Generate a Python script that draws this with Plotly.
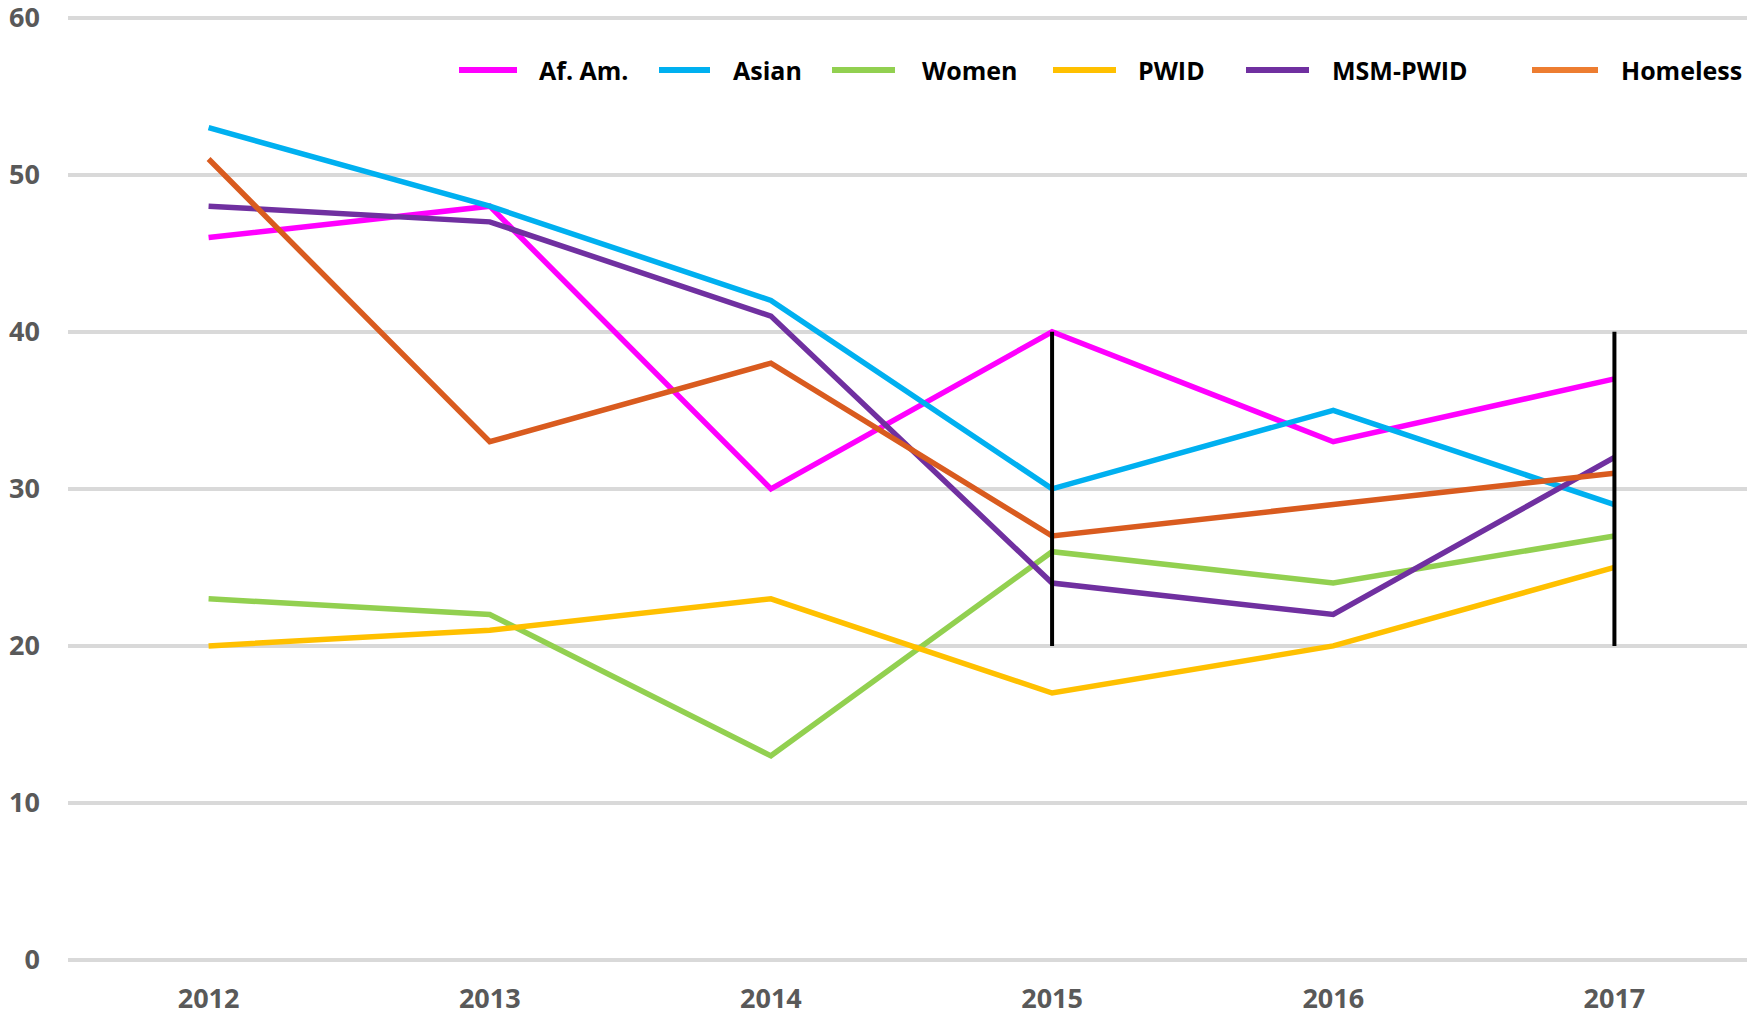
import plotly.graph_objects as go

years = ["2012", "2013", "2014", "2015", "2016", "2017"]
series_names = ["Af. Am.", "Asian", "Women", "PWID", "MSM-PWID", "Homeless"]
af_am = [46, 48, 30, 40, 33, 37]
asian = [53, 48, 42, 30, 35, 29]
women = [23, 22, 13, 26, 24, 27]
pwid = [20, 21, 23, 17, 20, 25]
msm_pwid = [48, 47, 41, 24, 22, 32]
homeless = [51, 33, 38, 27, 29, 31]
series_values = [af_am, asian, women, pwid, msm_pwid, homeless]

range_years = ["2015", "2017"]
range_low = [20, 20]
range_high = [40, 40]

y_ticks = [0, 10, 20, 30, 40, 50, 60]
y_max = 60.3

line_colors = ["#FF00FF", "#00B0F0", "#92D050", "#FFC000", "#7030A0", "#D95B1F"]
legend_colors = ["#FF00FF", "#00B0F0", "#92D050", "#FFC000", "#7030A0", "#ED7D31"]

# page body has an 8px margin, so the figure is offset by (8, 8)
OFF = 8
W, H = 1755 - OFF, 1018 - OFF
ML, MR, MT, MB = 68 - OFF, 0, 13 - OFF, 58
PW = W - ML - MR
PH = H - MT - MB

fig = go.Figure()
for name, vals, col in zip(series_names, series_values, line_colors):
    fig.add_trace(go.Scatter(x=years, y=vals, name=name, mode="lines",
                             line=dict(color=col, width=5.5), showlegend=False))

for yr, lo, hi in zip(range_years, range_low, range_high):
    fig.add_trace(go.Scatter(x=[yr, yr], y=[lo, hi], mode="lines",
                             line=dict(color="black", width=4), showlegend=False,
                             hoverinfo="skip"))

# custom legend (page pixel layout positions)
legend_line_px = [(459, 517), (659, 710), (832, 895), (1053, 1116), (1246, 1309), (1532, 1598)]
legend_text_px = [537, 731, 920, 1136, 1330, 1619]
legend_y_px = 70

def px_x(p):
    return (p - OFF - ML) / PW

def px_y(p):
    return (H - MB - (p - OFF)) / PH

shapes = []
annotations = []
for name, col, (x0, x1), tx in zip(series_names, legend_colors, legend_line_px, legend_text_px):
    shapes.append(dict(type="line", xref="paper", yref="paper",
                       x0=px_x(x0), x1=px_x(x1), y0=px_y(legend_y_px), y1=px_y(legend_y_px),
                       line=dict(color=col, width=6)))
    annotations.append(dict(xref="paper", yref="paper", x=px_x(tx), y=px_y(legend_y_px),
                            xanchor="left", yanchor="middle", text=name, showarrow=False,
                            font=dict(family="Open Sans", size=25, color="#000000", weight="bold")))

fig.update_layout(
    width=W, height=H,
    margin=dict(l=ML, r=MR, t=MT, b=MB, autoexpand=False),
    plot_bgcolor="white", paper_bgcolor="white",
    shapes=shapes, annotations=annotations,
    font=dict(family="Open Sans", color="#595959"),
    xaxis=dict(type="category", range=[-0.5, 5.5], showgrid=False, zeroline=False,
               showline=False, ticks="outside", ticklen=15, tickcolor="rgba(0,0,0,0)",
               automargin=False,
               tickfont=dict(size=27, color="#595959", weight="bold")),
    yaxis=dict(range=[0, y_max], tickvals=y_ticks, showgrid=True, gridcolor="#D9D9D9",
               gridwidth=3.5, zeroline=True, zerolinecolor="#D9D9D9", zerolinewidth=3.5,
               showline=False, ticklabelstandoff=27, ticklabeloverflow="allow",
               automargin=False,
               tickfont=dict(size=27, color="#595959", weight="bold")),
)

fig.write_html("out.html")
